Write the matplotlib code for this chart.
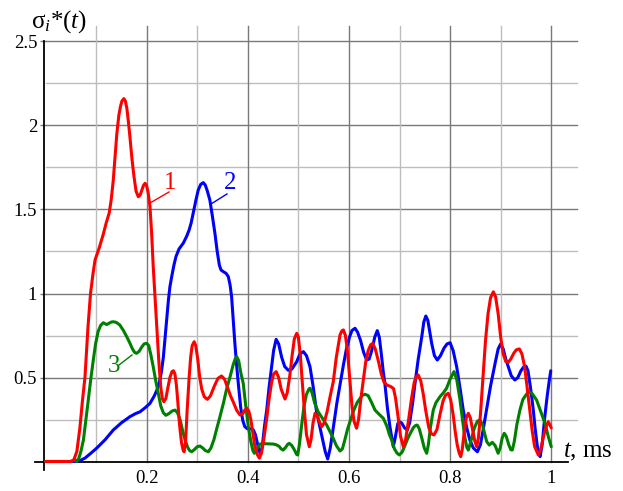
import matplotlib
matplotlib.use("Agg")
import matplotlib.pyplot as plt

# ---------------- data ----------------
t_red = [0.0, 0.05, 0.056, 0.062, 0.068, 0.073, 0.078, 0.084, 0.089, 0.094, 0.098,
         0.106, 0.114, 0.12, 0.126, 0.13, 0.134, 0.138, 0.141, 0.145, 0.148, 0.151,
         0.155, 0.158, 0.161, 0.164, 0.167, 0.171, 0.175, 0.179, 0.1835, 0.187, 0.191,
         0.194, 0.197, 0.2, 0.203, 0.2066, 0.21, 0.213, 0.2185, 0.224, 0.228, 0.231,
         0.234, 0.238, 0.242, 0.246, 0.25, 0.253, 0.256, 0.259, 0.262, 0.265, 0.269,
         0.272, 0.274, 0.277, 0.28, 0.284, 0.287, 0.29, 0.294, 0.297, 0.301, 0.305,
         0.309, 0.314, 0.32, 0.326, 0.334, 0.341, 0.348, 0.354, 0.36, 0.366, 0.371,
         0.378, 0.3846, 0.39, 0.394, 0.398, 0.402, 0.406, 0.41, 0.414, 0.419, 0.423,
         0.427, 0.431, 0.437, 0.442, 0.447, 0.451, 0.456, 0.461, 0.466, 0.4736, 0.478,
         0.483, 0.488, 0.492, 0.4967, 0.5, 0.504, 0.508, 0.512, 0.516, 0.5216, 0.525,
         0.529, 0.533, 0.537, 0.541, 0.546, 0.551, 0.557, 0.563, 0.569, 0.575, 0.5823,
         0.586, 0.589, 0.593, 0.597, 0.602, 0.606, 0.61, 0.615, 0.619, 0.623, 0.628,
         0.633, 0.638, 0.643, 0.647, 0.652, 0.658, 0.664, 0.669, 0.675, 0.682, 0.688,
         0.692, 0.697, 0.702, 0.7075, 0.712, 0.718, 0.724, 0.729, 0.733, 0.737, 0.742,
         0.747, 0.752, 0.758, 0.763, 0.768, 0.774, 0.78, 0.786, 0.791, 0.7964, 0.801,
         0.806, 0.81, 0.814, 0.818, 0.821, 0.824, 0.828, 0.832, 0.836, 0.84, 0.845,
         0.849, 0.8526, 0.856, 0.86, 0.865, 0.87, 0.875, 0.88, 0.8855, 0.89, 0.895,
         0.9, 0.905, 0.91, 0.915, 0.92, 0.926, 0.931, 0.937, 0.942, 0.947, 0.952,
         0.957, 0.962, 0.967, 0.9744, 0.979, 0.984, 0.989, 0.994, 0.997, 1.0]
y_red = [0.0, 0.0, 0.01, 0.06, 0.2, 0.36, 0.5, 0.8, 1.0, 1.12, 1.2,
         1.27, 1.35, 1.42, 1.48, 1.56, 1.675, 1.83, 1.95, 2.06, 2.11, 2.145,
         2.16, 2.145, 2.1, 2.02, 1.93, 1.8, 1.695, 1.61, 1.576, 1.585, 1.62,
         1.645, 1.656, 1.64, 1.6, 1.517, 1.35, 1.16, 0.88, 0.6, 0.44, 0.375,
         0.356, 0.375, 0.44, 0.5, 0.535, 0.54, 0.52, 0.45, 0.34, 0.22, 0.11,
         0.07, 0.058, 0.12, 0.3, 0.5, 0.62, 0.69, 0.713, 0.69, 0.61, 0.5,
         0.43, 0.385, 0.37, 0.39, 0.45, 0.495, 0.509, 0.49, 0.44, 0.39, 0.356,
         0.305, 0.277, 0.285, 0.305, 0.317, 0.3, 0.25, 0.17, 0.09, 0.04, 0.02,
         0.05, 0.12, 0.247, 0.37, 0.47, 0.52, 0.535, 0.5, 0.43, 0.372, 0.41,
         0.51, 0.64, 0.73, 0.763, 0.74, 0.63, 0.46, 0.3, 0.16, 0.088, 0.13,
         0.23, 0.287, 0.275, 0.24, 0.207, 0.23, 0.3, 0.39, 0.475, 0.62, 0.753,
         0.778, 0.783, 0.75, 0.66, 0.475, 0.33, 0.24, 0.198, 0.25, 0.36, 0.475,
         0.59, 0.66, 0.695, 0.703, 0.67, 0.6, 0.52, 0.475, 0.455, 0.447, 0.435,
         0.38, 0.27, 0.15, 0.088, 0.13, 0.25, 0.38, 0.47, 0.505, 0.515, 0.48,
         0.4, 0.3, 0.2, 0.165, 0.158, 0.19, 0.28, 0.36, 0.395, 0.406, 0.37,
         0.28, 0.18, 0.1, 0.05, 0.029, 0.07, 0.18, 0.26, 0.287, 0.26, 0.18,
         0.12, 0.088, 0.14, 0.28, 0.5, 0.72, 0.88, 0.975, 1.01, 0.98, 0.88,
         0.74, 0.64, 0.595, 0.59, 0.61, 0.645, 0.665, 0.67, 0.64, 0.57, 0.45,
         0.32, 0.19, 0.09, 0.039, 0.07, 0.14, 0.2, 0.237, 0.22, 0.2]

t_blue = [0.0, 0.06, 0.068, 0.078, 0.09, 0.101, 0.118, 0.134, 0.15, 0.167, 0.178,
          0.187, 0.197, 0.2066, 0.215, 0.221, 0.225, 0.229, 0.233, 0.2365, 0.2396,
          0.243, 0.246, 0.2495, 0.254, 0.258, 0.264, 0.2725, 0.279, 0.284, 0.288,
          0.292, 0.297, 0.302, 0.307, 0.312, 0.316, 0.32, 0.325, 0.33, 0.335, 0.3395,
          0.3437, 0.347, 0.3516, 0.357, 0.3615, 0.365, 0.368, 0.371, 0.3745, 0.378,
          0.382, 0.386, 0.39, 0.394, 0.399, 0.405, 0.411, 0.415, 0.4185, 0.422,
          0.4255, 0.429, 0.433, 0.4374, 0.442, 0.447, 0.451, 0.456, 0.461, 0.467,
          0.473, 0.48, 0.487, 0.4967, 0.503, 0.51, 0.516, 0.523, 0.529, 0.536, 0.543,
          0.549, 0.553, 0.558, 0.563, 0.569, 0.576, 0.583, 0.589, 0.595, 0.601, 0.606,
          0.612, 0.617, 0.623, 0.629, 0.635, 0.64, 0.645, 0.651, 0.656, 0.66, 0.664,
          0.668, 0.671, 0.676, 0.681, 0.6877, 0.692, 0.6965, 0.6996, 0.704, 0.71,
          0.7154, 0.72, 0.726, 0.7306, 0.737, 0.744, 0.748, 0.752, 0.756, 0.7636,
          0.769, 0.7747, 0.781, 0.788, 0.794, 0.8, 0.806, 0.813, 0.82, 0.826, 0.833,
          0.839, 0.846, 0.854, 0.86, 0.866, 0.872, 0.88, 0.889, 0.895, 0.9, 0.905,
          0.91, 0.915, 0.921, 0.928, 0.934, 0.94, 0.946, 0.95, 0.954, 0.9585, 0.962,
          0.9645, 0.968, 0.972, 0.975, 0.978, 0.982, 0.987, 0.992, 0.996, 0.999]
y_blue = [0.0, 0.0, 0.005, 0.02, 0.05, 0.079, 0.13, 0.1875, 0.23, 0.267, 0.285,
          0.296, 0.32, 0.346, 0.39, 0.43, 0.47, 0.53, 0.62, 0.74, 0.852,
          0.96, 1.04, 1.1, 1.17, 1.22, 1.265, 1.3, 1.34, 1.378, 1.42,
          1.477, 1.55, 1.616, 1.65, 1.66, 1.645, 1.61, 1.556, 1.46, 1.358, 1.25,
          1.17, 1.14, 1.13, 1.12, 1.1, 1.05, 0.98, 0.852, 0.7, 0.57,
          0.44, 0.32, 0.245, 0.208, 0.195, 0.195, 0.188, 0.16, 0.115, 0.065,
          0.045, 0.1, 0.21, 0.306, 0.44, 0.564, 0.66, 0.727, 0.7, 0.62,
          0.565, 0.543, 0.55, 0.594, 0.64, 0.654, 0.63, 0.564, 0.45, 0.296, 0.2,
          0.12, 0.06, 0.015, 0.08, 0.2, 0.346, 0.47, 0.574, 0.67, 0.74, 0.78,
          0.793, 0.77, 0.72, 0.65, 0.604, 0.61, 0.66, 0.74, 0.779, 0.74, 0.64,
          0.53, 0.465, 0.32, 0.207, 0.088, 0.15, 0.225, 0.237, 0.23, 0.2,
          0.1875, 0.23, 0.35, 0.465, 0.61, 0.743, 0.83, 0.866, 0.84, 0.703,
          0.63, 0.604, 0.63, 0.675, 0.7, 0.707, 0.66, 0.564, 0.43, 0.306, 0.2,
          0.128, 0.08, 0.058, 0.1, 0.2, 0.306, 0.45, 0.585, 0.67, 0.7, 0.67,
          0.61, 0.564, 0.51, 0.485, 0.5, 0.54, 0.565, 0.568, 0.54, 0.45, 0.37,
          0.306, 0.2, 0.1, 0.05, 0.029, 0.1, 0.26, 0.39, 0.48, 0.54]

t_green = [0.0, 0.05, 0.055, 0.058, 0.062, 0.066, 0.07, 0.075, 0.08, 0.0846, 0.0895,
           0.0945, 0.099, 0.104, 0.109, 0.1143, 0.118, 0.121, 0.125, 0.13, 0.134,
           0.14, 0.147, 0.154, 0.1606, 0.166, 0.172, 0.176, 0.18, 0.185, 0.19, 0.195,
           0.2, 0.204, 0.208, 0.213, 0.218, 0.223, 0.228, 0.233, 0.238, 0.244, 0.25,
           0.256, 0.261, 0.266, 0.271, 0.276, 0.281, 0.285, 0.289, 0.294, 0.3, 0.3055,
           0.311, 0.316, 0.322, 0.327, 0.333, 0.339, 0.345, 0.352, 0.358, 0.365, 0.371,
           0.375, 0.378, 0.382, 0.386, 0.391, 0.396, 0.401, 0.406, 0.41, 0.413, 0.418,
           0.424, 0.432, 0.44, 0.45, 0.456, 0.462, 0.466, 0.47, 0.475, 0.479, 0.482,
           0.487, 0.492, 0.4965, 0.4987, 0.502, 0.507, 0.511, 0.516, 0.521, 0.523,
           0.527, 0.532, 0.539, 0.547, 0.556, 0.563, 0.569, 0.575, 0.5823, 0.587,
           0.592, 0.597, 0.602, 0.609, 0.616, 0.622, 0.627, 0.632, 0.638, 0.645,
           0.6515, 0.66, 0.668, 0.675, 0.68, 0.6845, 0.69, 0.695, 0.6996, 0.705, 0.71,
           0.716, 0.72, 0.727, 0.731, 0.735, 0.739, 0.744, 0.749, 0.7537, 0.757, 0.761,
           0.7667, 0.772, 0.78, 0.787, 0.793, 0.8, 0.8077, 0.813, 0.8196, 0.824, 0.829,
           0.833, 0.836, 0.841, 0.848, 0.854, 0.859, 0.864, 0.868, 0.8724, 0.8775,
           0.8835, 0.889, 0.895, 0.899, 0.903, 0.907, 0.911, 0.916, 0.92, 0.923, 0.927,
           0.932, 0.938, 0.944, 0.9546, 0.962, 0.971, 0.979, 0.9877, 0.994, 1.0]
y_green = [0.0, 0.0, 0.005, 0.012, 0.0, 0.02, 0.06, 0.128, 0.25, 0.366, 0.49,
           0.604, 0.7, 0.773, 0.81, 0.826, 0.82, 0.815, 0.822, 0.83, 0.832,
           0.828, 0.8125, 0.78, 0.743, 0.71, 0.67, 0.65, 0.644, 0.655, 0.68, 0.7,
           0.7036, 0.69, 0.64, 0.564, 0.48, 0.406, 0.33, 0.29, 0.275, 0.285, 0.3,
           0.306, 0.29, 0.25, 0.185, 0.128, 0.085, 0.065, 0.058, 0.07, 0.088, 0.092,
           0.08, 0.065, 0.058, 0.08, 0.13, 0.2, 0.267, 0.35, 0.43, 0.505, 0.575,
           0.61, 0.624, 0.6, 0.53, 0.465, 0.33, 0.207, 0.12, 0.065, 0.049, 0.075,
           0.104, 0.106, 0.105, 0.104, 0.1, 0.09, 0.075, 0.068, 0.085, 0.103, 0.108,
           0.095, 0.07, 0.042, 0.039, 0.1, 0.23, 0.326, 0.4, 0.432, 0.436,
           0.41, 0.35, 0.296, 0.26, 0.217, 0.175, 0.138, 0.095, 0.0625, 0.075,
           0.13, 0.19, 0.237, 0.3, 0.35, 0.376, 0.395, 0.4, 0.392, 0.35,
           0.306, 0.28, 0.257, 0.21, 0.16, 0.128, 0.075, 0.05, 0.039, 0.055, 0.09,
           0.135, 0.16, 0.2, 0.213, 0.217, 0.195, 0.14, 0.08, 0.049, 0.1, 0.2,
           0.306, 0.35, 0.386, 0.41, 0.436, 0.49, 0.535, 0.49, 0.366, 0.26, 0.148,
           0.085, 0.068, 0.12, 0.2, 0.24, 0.247, 0.22, 0.17, 0.118, 0.098,
           0.114, 0.095, 0.049, 0.08, 0.14, 0.168, 0.15, 0.1, 0.07, 0.068, 0.12,
           0.22, 0.306, 0.37, 0.415, 0.405, 0.366, 0.3, 0.227, 0.15, 0.088]

x_ticks = [0.2, 0.4, 0.6, 0.8, 1.0]
x_tick_labels = ["0.2", "0.4", "0.6", "0.8", "1"]
y_ticks = [0.5, 1.0, 1.5, 2.0, 2.5]
y_tick_labels = ["0.5", "1", "1.5", "2", "2.5"]
curve_labels = ["1", "2", "3"]

# ---------------- figure ----------------
plt.rcParams['mathtext.fontset'] = 'custom'
plt.rcParams['mathtext.rm'] = 'Liberation Serif'
plt.rcParams['mathtext.it'] = 'Liberation Serif:italic'
plt.rcParams['font.family'] = ['Liberation Serif', 'DejaVu Serif']

W, H = 623, 491
fig = plt.figure(figsize=(W / 100, H / 100), dpi=100)

x0px, xs = 45.5, 505.75      # pixel of t=0, pixels per ms
y0px, ys = 461.5, 168.0      # pixel (from top) of y=0, pixels per unit
xmax, ymax = 1.051, 2.59
ax = fig.add_axes([x0px / W, (H - y0px) / H, xmax * xs / W, ymax * ys / H])
ax.set_xlim(0, xmax)
ax.set_ylim(0, ymax)
for s in ax.spines.values():
    s.set_visible(False)

major_c, minor_c = "#7a7a7a", "#bdbdbd"
for k in range(1, 11):
    yv = 0.25 * k
    ax.plot([0, xmax], [yv, yv], color=major_c if k % 2 == 0 else minor_c,
            lw=1.0, zorder=1, clip_on=False)
for k in range(1, 11):
    xv = 0.1 * k
    ax.plot([xv, xv], [0, ymax], color=major_c if k % 2 == 0 else minor_c,
            lw=1.0, zorder=1, clip_on=False)
ax.plot([-0.02, 1.034], [0, 0], color="black", lw=1.3, zorder=2, clip_on=False)
ax.plot([-0.0024, -0.0024], [-0.05, 2.5], color="black", lw=1.3, zorder=2, clip_on=False)

ax.set_xticks(x_ticks)
ax.set_xticklabels(x_tick_labels)
ax.set_yticks(y_ticks)
ax.set_yticklabels(y_tick_labels)
ax.tick_params(axis='x', length=0, pad=6, labelsize=13.5)
ax.tick_params(axis='y', length=4, width=1, color=major_c, pad=2, labelsize=13.5)

lw = 2.2
common = dict(lw=lw, clip_on=False, solid_joinstyle="round", solid_capstyle="round")
ax.plot(t_red, y_red, color="#ff0000", zorder=4, **common)
ax.plot(t_blue, y_blue, color="#0000ff", zorder=3, **common)
ax.plot(t_green, y_green, color="#008000", zorder=3.5, **common)

ax.plot([0.2066, 0.2442], [1.5387, 1.6042], color="#ff0000", lw=1.0, zorder=5)
ax.text(0.2472, 1.6607, curve_labels[0], color="#ff0000", fontsize=18,
        ha="center", va="center", zorder=5)
ax.plot([0.3272, 0.3588], [1.5327, 1.5923], color="#0000ff", lw=1.0, zorder=5)
ax.text(0.3648, 1.6548, curve_labels[1], color="#0000ff", fontsize=18,
        ha="center", va="center", zorder=5)
ax.plot([0.1453, 0.1710], [0.5744, 0.6339], color="#008000", lw=1.0, zorder=5)
ax.text(0.1345, 0.5685, curve_labels[2], color="#008000", fontsize=18,
        ha="center", va="center", zorder=5)

fig.text(31 / W, 1 - 28 / H, r"$\mathrm{\sigma}_i$*($t$)", fontsize=18,
         ha="left", va="baseline")
fig.text(563 / W, 1 - 457 / H, r"$t$, ms", fontsize=18, ha="left", va="baseline")

fig.savefig("out.png", dpi=100)
